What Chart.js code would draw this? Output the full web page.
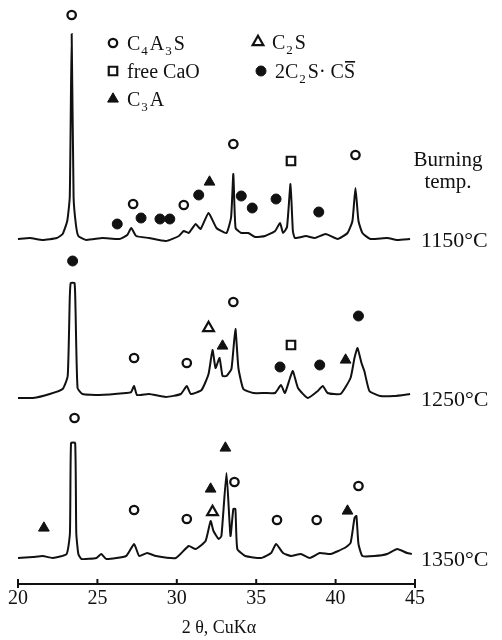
<!DOCTYPE html>
<html>
<head>
<meta charset="utf-8">
<script src="https://cdn.jsdelivr.net/npm/chart.js@4.4.1/dist/chart.umd.min.js"></script>
<style>
  html, body { margin: 0; padding: 0; background: #fff; }
</style>
</head>
<body>
<canvas id="xrd" width="502" height="640"></canvas>
<script>
(() => {
  'use strict'

  // burning temperatures, top trace first
  const temps = ['1150°C', '1250°C', '1350°C']

  // 2θ axis ticks
  const tickValues = [20, 25, 30, 35, 40, 45]

  // diffraction traces: [2θ, intensity above the trace baseline]
  const trace1150 = [
    [20.0, 0], [20.75, 1], [21.56, -1], [22.44, 1], [22.81, 5], [23.1, 18], [23.26, 42],
    [23.38, 205], [23.5, 42], [23.65, 14], [23.8, 3], [24.31, -1], [25.31, 1], [26.38, 0],
    [26.88, 4], [27.13, 11], [27.44, 3], [28.25, 1], [29.31, -2], [30.13, 3], [30.44, 8],
    [30.75, 6], [31.19, 15], [31.5, 10], [32.0, 26], [32.5, 11], [33.13, 6], [33.42, 22],
    [33.56, 65], [33.7, 11], [34.06, 6], [34.5, 6], [34.94, 2], [35.56, 3], [36.19, 8],
    [36.5, 16], [36.69, 6], [36.94, 12], [37.16, 55], [37.31, 8], [37.44, 1], [38.13, 3],
    [38.69, 1], [39.38, 5], [40.13, 0], [40.75, 6], [41.06, 18], [41.25, 51], [41.44, 18],
    [41.69, 6], [42.19, 0], [43.25, 1], [43.88, -1], [44.69, 0]
  ]
  const trace1250 = [
    [20.0, 0], [20.94, 0], [22.0, 4], [22.81, 9], [23.13, 22], [23.26, 100], [23.32, 115],
    [23.56, 115], [23.62, 90], [23.75, 10], [24.06, 4], [25.13, 3], [26.81, 5],
    [27.13, 6], [27.31, 12], [27.5, 3], [28.25, 4], [29.31, 1], [30.25, 4], [30.63, 12],
    [30.88, 4], [31.56, 8], [32.0, 24], [32.25, 48], [32.44, 30], [32.69, 40], [32.88, 22],
    [33.13, 22], [33.44, 29], [33.69, 69], [33.88, 30], [34.19, 9], [34.81, 5], [35.56, 5],
    [36.19, 5], [36.56, 13], [36.81, 5], [37.13, 20], [37.31, 27], [37.63, 10], [38.25, 0],
    [38.88, 7], [39.19, 12], [39.5, 5], [40.31, 4], [40.94, 20], [41.19, 40], [41.38, 50],
    [41.63, 35], [41.81, 27], [42.13, 7], [42.81, 2], [43.69, 2], [44.69, 4]
  ]
  const trace1350 = [
    [20.0, 0], [20.94, 1], [21.56, 2], [22.19, 0], [23.06, 4], [23.27, 25], [23.34, 115],
    [23.6, 115], [23.67, 25], [23.8, 4], [24.0, -1], [24.94, 0], [25.25, 4],
    [25.56, -1], [26.81, 2], [27.31, 14], [27.63, 2], [28.13, 5], [28.69, 2], [29.94, 0],
    [30.75, 12], [31.19, 9], [31.81, 17], [32.13, 37], [32.31, 27], [32.63, 19], [32.81, 22],
    [33.13, 85], [33.38, 22], [33.56, 49], [33.69, 49], [33.81, 9], [34.31, 2], [35.31, 0],
    [35.94, 5], [36.25, 14], [36.69, 5], [37.19, 2], [37.81, 4], [38.38, 0], [39.0, 5],
    [39.69, 4], [40.56, 10], [40.94, 15], [41.19, 40], [41.31, 42], [41.44, 14], [41.69, 2],
    [42.44, 2], [43.25, 4], [43.88, 9], [44.5, 5], [44.8, 4]
  ]

  // phase markers: [trace index, 2θ, height above the trace baseline]
  const markC4A3S = [
    [0, 23.38, 224], [0, 27.25, 35], [0, 30.44, 34], [0, 33.56, 95], [0, 41.25, 84],
    [1, 27.31, 40], [1, 30.63, 35], [1, 33.56, 96],
    [2, 23.56, 140], [2, 27.31, 48], [2, 30.63, 39], [2, 33.63, 76], [2, 36.31, 38],
    [2, 38.81, 38], [2, 41.44, 72]
  ]
  const markCaO = [[0, 37.19, 78], [1, 37.19, 53]]
  const markC3A = [
    [0, 32.06, 57], [1, 32.88, 52], [1, 40.63, 38],
    [2, 21.63, 30], [2, 32.13, 69], [2, 33.06, 110], [2, 40.75, 47]
  ]
  const markC2S = [[1, 32.0, 70], [2, 32.25, 46]]
  const markC2SCS = [
    [0, 26.25, 15], [0, 27.75, 21], [0, 28.94, 20], [0, 29.56, 20], [0, 31.38, 44],
    [0, 34.06, 43], [0, 34.75, 31], [0, 36.25, 40], [0, 38.94, 27],
    [1, 23.44, 137], [1, 36.5, 31], [1, 39.0, 33], [1, 41.44, 82]
  ]

  // legend labels: _x = subscript, ~x = overlined
  const phaseNames = ['C_4A_3S', 'free CaO', 'C_3A', 'C_2S', '2C_2S· C~S']

  const baseLevel = [345, 186, 26]
  const ink = '#111'
  const serif = '"Liberation Serif", "Times New Roman", serif'

  const phaseStyle = [
    { marks: markC4A3S, pointStyle: 'circle', radius: 4.2, fill: '#fff', bw: 2.3, at: [113, 43] },
    { marks: markCaO, pointStyle: 'rect', radius: 6, fill: '#fff', bw: 2.2, at: [113, 71] },
    { marks: markC3A, pointStyle: 'triangle', radius: 6.2, fill: ink, bw: 1, at: [113, 99] },
    { marks: markC2S, pointStyle: 'triangle', radius: 6.2, fill: '#fff', bw: 2.2, at: [258, 42] },
    { marks: markC2SCS, pointStyle: 'circle', radius: 5, fill: ink, bw: 1, at: [261, 71] }
  ]

  const traces = [trace1150, trace1250, trace1350]
  const datasets = traces.map((tr, i) => ({
    type: 'line',
    label: temps[i],
    data: tr.map(p => ({ x: p[0], y: p[1] + baseLevel[i] })),
    borderColor: ink,
    borderWidth: 2,
    pointRadius: 0,
    fill: false,
    tension: 0.15,
    clip: false
  }))

  phaseStyle.forEach((s, k) => {
    datasets.push({
      type: 'scatter',
      label: phaseNames[k],
      data: s.marks.map(m => ({ x: m[1], y: m[2] + baseLevel[m[0]] })),
      pointStyle: s.pointStyle,
      pointRadius: s.radius,
      pointBackgroundColor: s.fill,
      pointBorderColor: ink,
      pointBorderWidth: s.bw,
      showLine: false,
      clip: false
    })
  })

  function richParts (s) {
    const parts = []
    for (let i = 0; i < s.length; i++) {
      const ch = s[i]
      if (ch === '_') parts.push([s[++i], 'sub'])
      else if (ch === '~') parts.push([s[++i], 'bar'])
      else parts.push([ch, ''])
    }
    return parts
  }

  function drawRich (ctx, s, x, y) {
    for (const [ch, kind] of richParts(s)) {
      if (kind === 'sub') {
        ctx.font = '13px ' + serif
        ctx.fillText(ch, x + 1, y + 5)
        x += ctx.measureText(ch).width + 3
      } else {
        ctx.font = '20px ' + serif
        ctx.fillText(ch, x, y)
        const w = ctx.measureText(ch).width
        if (kind === 'bar') ctx.fillRect(x + 1, y - 17, w - 1, 1.6)
        x += w
      }
    }
  }

  const decorations = {
    id: 'decorations',
    afterDraw (chart) {
      const { ctx, scales: { x, y } } = chart
      ctx.save()
      ctx.fillStyle = ink
      ctx.strokeStyle = ink

      // axis ticks pointing up into the plot
      ctx.lineWidth = 2
      const bottom = chart.chartArea.bottom
      tickValues.forEach((v, i) => {
        const px = x.getPixelForValue(v)
        const end = i === 0 || i === tickValues.length - 1
        ctx.beginPath()
        ctx.moveTo(px, bottom - 5)
        ctx.lineTo(px, bottom + (end ? 4 : 1))
        ctx.stroke()
      })

      // axis title
      ctx.font = '18px ' + serif
      ctx.textAlign = 'center'
      ctx.textBaseline = 'alphabetic'
      ctx.fillText('2 θ, CuKα', 219, 633)

      // legend
      phaseStyle.forEach((s, k) => {
        ctx.fillStyle = s.fill
        ctx.lineWidth = s.bw
        Chart.helpers.drawPoint(ctx, { pointStyle: s.pointStyle, radius: s.radius, rotation: 0, borderWidth: s.bw }, s.at[0], s.at[1])
        ctx.fillStyle = ink
        ctx.textAlign = 'left'
        drawRich(ctx, phaseNames[k], s.at[0] + 14, s.at[1] + 7)
      })

      // temperature labels
      ctx.font = '21px ' + serif
      ctx.textAlign = 'center'
      ctx.fillText('Burning', 448, 166)
      ctx.fillText('temp.', 448, 188)
      ctx.font = '22px ' + serif
      ctx.textAlign = 'left'
      ctx.textBaseline = 'middle'
      temps.forEach((t, i) => {
        ctx.fillText(t, 421, y.getPixelForValue(baseLevel[i]) + 2)
      })
      ctx.restore()
    }
  }

  new Chart(document.getElementById('xrd'), {
    type: 'line',
    data: { datasets },
    options: {
      responsive: false,
      animation: false,
      layout: { autoPadding: false, padding: { left: 18, right: 87, top: 0, bottom: 0 } },
      plugins: {
        legend: { display: false },
        tooltip: { enabled: false }
      },
      scales: {
        x: {
          type: 'linear',
          min: 20,
          max: 45,
          afterFit: scale => { scale.height = 56 },
          afterBuildTicks: scale => { scale.ticks = tickValues.map(v => ({ value: v })) },
          ticks: { color: ink, font: { family: serif, size: 20 }, padding: 3, maxRotation: 0 },
          grid: { display: true, drawOnChartArea: false, drawTicks: false },
          border: { display: true, color: ink, width: 2 }
        },
        y: {
          display: false,
          min: 0,
          max: 584
        }
      }
    },
    plugins: [decorations]
  })
})()
</script>
</body>
</html>
